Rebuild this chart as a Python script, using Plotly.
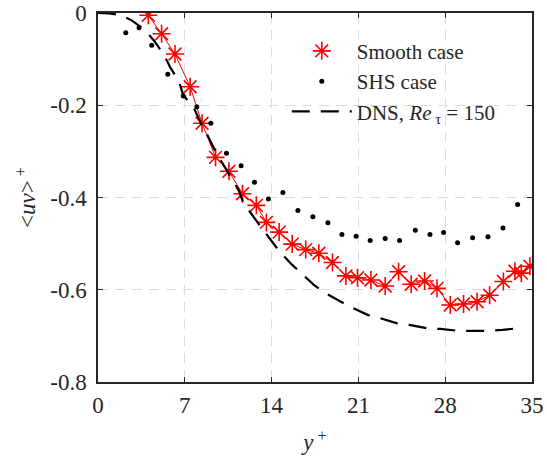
import plotly.graph_objects as go

# Smooth case (red asterisks)
smooth_x = [4.06, 5.13, 6.21, 7.43, 8.39, 9.48, 10.56, 11.65, 12.77, 13.58, 14.61, 15.66,
            16.75, 17.81, 18.91, 19.99, 20.93, 22.01, 23.16, 24.24, 25.26, 26.34, 27.34,
            28.41, 29.48, 30.57, 31.58, 32.69, 33.62, 34.14, 34.83]
smooth_y = [-0.005, -0.045, -0.089, -0.160, -0.239, -0.313, -0.343, -0.392, -0.417, -0.454,
            -0.475, -0.501, -0.513, -0.521, -0.541, -0.570, -0.574, -0.579, -0.592, -0.561,
            -0.588, -0.581, -0.597, -0.633, -0.631, -0.626, -0.612, -0.582, -0.560, -0.564,
            -0.549]

# SHS case (black dots)
shs_x = [2.24, 3.31, 4.33, 5.63, 6.88, 7.97, 9.10, 10.36, 11.54, 12.62, 13.74, 14.91, 16.12,
         17.33, 18.54, 19.67, 20.82, 21.95, 23.16, 24.32, 25.59, 26.77, 27.87, 29.00, 30.21,
         31.45, 32.66, 33.84]
shs_y = [-0.043, -0.032, -0.070, -0.133, -0.180, -0.203, -0.239, -0.304, -0.331, -0.367,
         -0.403, -0.389, -0.428, -0.442, -0.455, -0.480, -0.484, -0.493, -0.489, -0.493,
         -0.471, -0.480, -0.476, -0.498, -0.487, -0.485, -0.466, -0.415]

# DNS, Re_tau = 150 (dashed line)
dns_x = [0.0, 0.9, 1.78, 2.72, 3.79, 4.52, 5.33, 5.81, 6.54, 6.86, 7.75, 8.23, 8.88, 9.36,
         10.0, 10.49, 11.30, 11.70, 12.51, 13.13, 14.02, 14.61, 15.58, 16.36, 17.43, 18.32,
         19.53, 20.34, 21.79, 22.68, 24.13, 25.10, 26.63, 27.60, 29.06, 30.02, 31.48, 32.61,
         34.06]
dns_y = [0.0, -0.001, -0.004, -0.016, -0.037, -0.060, -0.091, -0.117, -0.149, -0.177, -0.207,
         -0.235, -0.268, -0.294, -0.324, -0.346, -0.382, -0.410, -0.441, -0.464, -0.495,
         -0.516, -0.544, -0.563, -0.590, -0.607, -0.626, -0.637, -0.655, -0.661, -0.673,
         -0.676, -0.684, -0.685, -0.689, -0.689, -0.689, -0.687, -0.683]

x_ticks = [0, 7, 14, 21, 28, 35]
x_ticktext = ["0", "7", "14", "21", "28", "35"]
y_ticks = [0, -0.2, -0.4, -0.6, -0.8]
y_ticktext = ["0", "-0.2", "-0.4", "-0.6", "-0.8"]

FONT = "Liberation Serif"
AXC = "#262626"
RED = "#ff0000"

fig = go.Figure()
fig.add_trace(go.Scatter(
    x=smooth_x, y=smooth_y, mode="lines", showlegend=False, hoverinfo="skip",
    line=dict(color=RED, width=1),
))
fig.add_trace(go.Scatter(
    x=smooth_x, y=smooth_y, mode="markers", name="Smooth case",
    marker=dict(symbol="asterisk-open", size=15, color=RED,
                line=dict(color=RED, width=1.6)),
))
fig.add_trace(go.Scatter(
    x=shs_x, y=shs_y, mode="markers", name="SHS case",
    marker=dict(symbol="circle", size=5, color="black"),
))
fig.add_trace(go.Scatter(
    x=dns_x, y=dns_y, mode="lines", name="DNS, <i>Re</i><sub> τ</sub> = 150",
    line=dict(color="black", width=2.2, dash="18px,11px"),
))

axis_common = dict(
    showline=True, linecolor=AXC, linewidth=1.5, mirror="ticks",
    ticks="inside", ticklen=5, tickwidth=1.2, tickcolor=AXC,
    showgrid=True, gridcolor="#dcdcdc", gridwidth=1, griddash="10px,7px",
    zeroline=False, automargin=False, ticklabeloverflow="allow",
    tickfont=dict(family=FONT, size=23, color="#262626"),
)

fig.update_layout(
    width=547, height=457,
    margin=dict(l=98, r=15, t=13, b=75),
    paper_bgcolor="white", plot_bgcolor="white",
    font=dict(family=FONT, size=21, color="#262626"),
    showlegend=True,
    legend=dict(x=0.435, y=0.952, xanchor="left", yanchor="top",
                bgcolor="rgba(0,0,0,0)", borderwidth=0, itemwidth=60,
                font=dict(family=FONT, size=21, color="#262626"),
                tracegroupgap=0),
    xaxis=dict(range=[0, 35], tickvals=x_ticks, ticktext=x_ticktext,
               ticklabelstandoff=2,
               title=dict(text="<i>y</i><sup> +</sup>", standoff=17,
                          font=dict(family=FONT, size=23)),
               **axis_common),
    yaxis=dict(range=[-0.8, 0], tickvals=y_ticks, ticktext=y_ticktext,
               ticklabelstandoff=5,
               title=dict(text="&lt;<i>uv</i>&gt;<sup> +</sup>", standoff=8,
                          font=dict(family=FONT, size=23)),
               **axis_common),
)

fig.write_html("out.html", config={"displayModeBar": False},
               post_script="document.body.style.margin='0px';")
